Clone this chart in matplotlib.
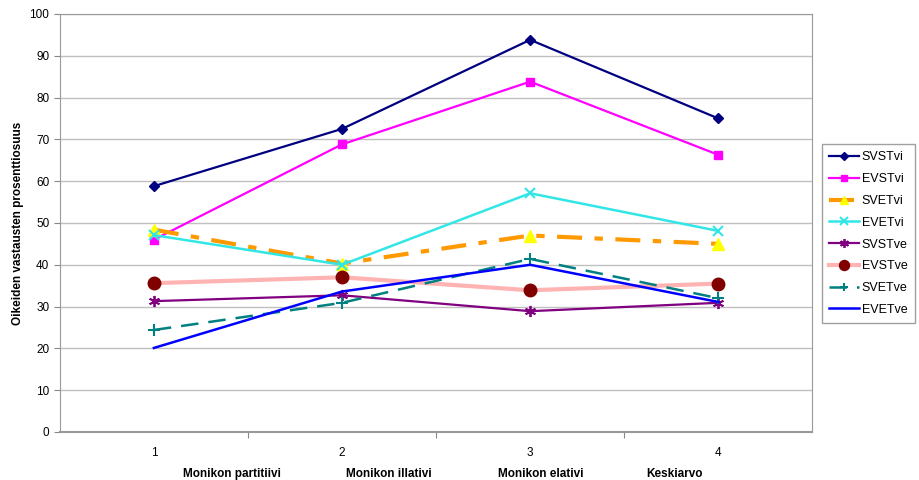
import matplotlib
matplotlib.use("Agg")
import matplotlib.pyplot as plt

plt.rcParams["font.family"] = ["Liberation Sans", "DejaVu Sans"]

x = [1, 2, 3, 4]
kategoriat = ["Monikon partitiivi", "Monikon illativi", "Monikon elativi", "Keskiarvo"]
SVSTvi = [58.8, 72.5, 93.8, 75.0]
EVSTvi = [46.0, 68.8, 83.8, 66.3]
SVETvi = [48.4, 40.3, 47.0, 45.0]
EVETvi = [47.1, 40.0, 57.1, 48.1]
SVSTve = [31.3, 32.7, 28.9, 30.9]
EVSTve = [35.6, 37.0, 33.9, 35.5]
SVETve = [24.4, 30.9, 41.4, 32.0]
EVETve = [20.1, 33.6, 40.0, 31.1]

# kategorianimien paikat (x-akselin koordinaatteina), kuten alkuperäisessä
nimi_x = [1.415, 2.25, 3.055, 3.766]

fig = plt.figure(figsize=(9.2, 4.8), dpi=100)
ax = fig.add_axes([0.065, 0.1, 0.818, 0.871])

ax.plot(x, SVSTvi, color="#000080", lw=1.6, marker="D", ms=5, label="SVSTvi")
ax.plot(x, EVSTvi, color="#FF00FF", lw=1.6, marker="s", ms=6, label="EVSTvi")
ax.plot(x, SVETvi, color="#FF9900", lw=3, dashes=(6, 3, 2, 3), marker="^", ms=8,
        mfc="#FFFF00", mec="#FFFF00", label="SVETvi")
ax.plot(x, EVETvi, color="#33E6E6", lw=1.8, marker="x", ms=7, mew=1.5, label="EVETvi")
ax.plot(x, SVSTve, color="#800080", lw=1.6, marker=(6, 2, 0), ms=8, mew=1.3, label="SVSTve")
ax.plot(x, EVSTve, color="#FFB3B3", lw=3, marker="o", ms=9, mfc="#800000", mec="#800000", label="EVSTve")
ax.plot(x, SVETve, color="#008080", lw=1.8, dashes=(7, 4), marker="+", ms=8, mew=1.5, label="SVETve")
ax.plot(x, EVETve, color="#0000FF", lw=1.8, label="EVETve")

ax.set_xlim(0.5, 4.5)
ax.set_ylim(0, 100)
ax.set_yticks(range(0, 101, 10))
ax.set_xticks([1.5, 2.5, 3.5])
ax.set_xticklabels([])
ax.tick_params(axis="x", length=4, color="#888888")
ax.tick_params(axis="y", length=4, color="#888888", labelsize=8.5)
ax.grid(axis="y", color="#c0c0c0", lw=1)
ax.set_axisbelow(True)
for s in ax.spines.values():
    s.set_color("#999999")
ax.spines["bottom"].set_linewidth(1.5)

for xi in x:
    ax.text(xi, -3.5, str(xi), ha="center", va="top", fontsize=8.5)
for nx, k in zip(nimi_x, kategoriat):
    ax.text(nx, -8.5, k, ha="center", va="top", fontsize=8.5, fontweight="bold")

ax.set_ylabel("Oikeiden vastausten prosenttiosuus", fontsize=8.5, fontweight="bold")

leg = fig.legend(loc="upper left", bbox_to_anchor=(0.893, 0.70), fontsize=9,
                 frameon=True, fancybox=False, edgecolor="#888888",
                 handlelength=2.4, labelspacing=0.78, borderpad=0.6, handletextpad=0.2,
                 borderaxespad=0, markerscale=0.8)

fig.savefig("out.png", dpi=100)
